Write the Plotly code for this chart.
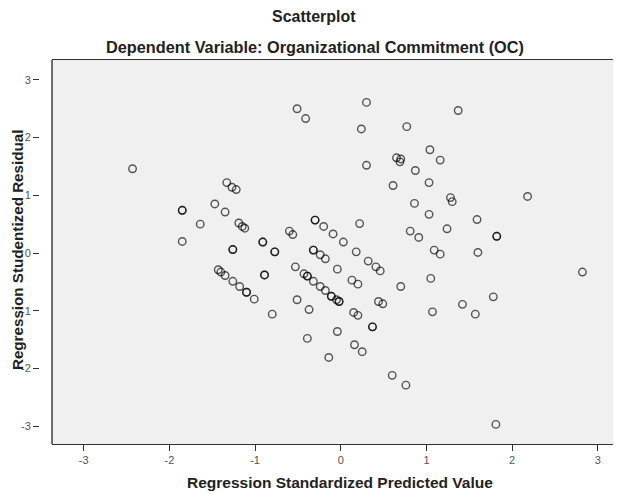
import plotly.graph_objects as go

# Regression standardized predicted values (x) and studentized residuals (y),
# read off the SPSS scatterplot; repeated pairs are cases drawn on top of each other
pred = [-2.43, -1.33, -1.27, -1.22, -1.85, -1.85, -1.47, -1.35, -1.64, -1.19,
        -1.15, -1.12, -1.85, -1.26, -1.26, -1.43, -1.40, -1.35, -1.26, -1.18,
        -1.10, -1.10, -1.01, -0.89, -0.89, -0.80, -0.91, -0.91, -0.77, -0.77,
        -0.60, -0.56, -0.51, -0.41, -0.30, -0.30, -0.20, -0.09, 0.03, 0.22,
        -0.32, -0.32, -0.24, -0.18, 0.18, 0.32, 0.41, 0.46, -0.53, -0.43,
        -0.39, -0.39, -0.32, -0.24, -0.18, -0.11, -0.11, -0.05, -0.02, -0.02,
        -0.04, 0.13, 0.20, 0.70, 1.05, -0.51, -0.37, 0.44, 0.49, 0.15,
        0.20, 1.07, 0.37, 0.37, -0.04, -0.39, 0.16, 0.25, -0.14, 0.60,
        0.76, 0.30, 0.24, 0.77, 1.37, 1.04, 1.16, 0.65, 0.70, 0.69,
        0.30, 0.87, 1.03, 0.61, 1.28, 1.30, 0.86, 1.03, 0.81, 0.91,
        1.24, 1.09, 1.16, 2.18, 1.59, 1.82, 1.82, 1.42, 1.57, 1.81,
        1.60, 2.82, 1.78]
resid = [1.46, 1.22, 1.14, 1.10, 0.74, 0.74, 0.85, 0.71, 0.50, 0.52,
         0.46, 0.43, 0.20, 0.06, 0.06, -0.29, -0.33, -0.39, -0.49, -0.58,
         -0.68, -0.68, -0.80, -0.38, -0.38, -1.06, 0.19, 0.19, 0.02, 0.02,
         0.38, 0.32, 2.50, 2.33, 0.57, 0.57, 0.46, 0.33, 0.19, 0.51,
         0.05, 0.05, -0.03, -0.10, 0.02, -0.14, -0.24, -0.31, -0.24, -0.36,
         -0.40, -0.40, -0.49, -0.58, -0.65, -0.75, -0.75, -0.81, -0.84, -0.84,
         -0.28, -0.47, -0.54, -0.58, -0.44, -0.81, -0.98, -0.84, -0.88, -1.03,
         -1.08, -1.02, -1.28, -1.28, -1.36, -1.48, -1.59, -1.71, -1.81, -2.12,
         -2.29, 2.61, 2.15, 2.19, 2.47, 1.79, 1.61, 1.65, 1.63, 1.58,
         1.52, 1.43, 1.22, 1.17, 0.96, 0.89, 0.86, 0.67, 0.38, 0.27,
         0.42, 0.05, -0.02, 0.98, 0.58, 0.29, 0.29, -0.89, -1.06, -2.97,
         0.01, -0.33, -0.76]

ticks = [-3, -2, -1, 0, 1, 2, 3]
tick_labels = ["-3", "-2", "-1", "0", "1", "2", "3"]

font_name = "Liberation Sans, Arial, sans-serif"

# the page puts the figure 8px in from the top-left corner, so the figure is
# 8px smaller and the margins are shifted by the same amount
fig = go.Figure()
fig.add_trace(go.Scatter(
    x=pred, y=resid, mode="markers",
    marker=dict(symbol="circle-open", size=7.5, color="rgba(0,0,0,0.65)",
                line=dict(width=1.4)),
    hoverinfo="x+y", showlegend=False))

fig.update_layout(
    width=613, height=486,
    margin=dict(l=31, r=0, t=52, b=50),
    paper_bgcolor="white", plot_bgcolor="#F0F0F0",
    font=dict(family=font_name, color="#222"),
    xaxis=dict(domain=[13 / 582, 1], range=[-3.37, 3.27],
               tickvals=ticks, ticktext=tick_labels,
               ticks="outside", ticklen=6, tickcolor="#333",
               tickfont=dict(size=11, color="#555"),
               showline=True, linecolor="#333", linewidth=1.3, mirror=True,
               showgrid=False, zeroline=False),
    yaxis=dict(range=[-3.31, 3.345], anchor="free", position=0,
               tickvals=ticks, ticktext=tick_labels,
               ticks="outside", ticklen=6, tickcolor="#333",
               tickfont=dict(size=11, color="#555"),
               showline=False, showgrid=False, zeroline=False),
    shapes=[dict(type="line", xref="x domain", yref="y domain",
                 x0=0, x1=0, y0=0, y1=1,
                 line=dict(color="#222", width=1.3))],
    annotations=[
        dict(text="<b>Scatterplot</b>", xref="paper", yref="paper",
             x=(306 - 31) / 582, y=1 + 44 / 384, showarrow=False,
             xanchor="center", yanchor="middle", font=dict(size=16)),
        dict(text="<b>Dependent Variable: Organizational Commitment (OC)</b>",
             xref="paper", yref="paper",
             x=(307 - 31) / 582, y=1 + 13 / 384, showarrow=False,
             xanchor="center", yanchor="middle", font=dict(size=16.3)),
        dict(text="<b>Regression Studentized Residual</b>", xref="paper",
             yref="paper", x=(9 - 31) / 582, y=0.505, textangle=-90,
             showarrow=False, xanchor="center", yanchor="middle",
             font=dict(size=15.2)),
        dict(text="<b>Regression Standardized Predicted Value</b>",
             xref="paper", yref="paper", x=(332 - 31) / 582,
             y=(436 - 474) / 384, showarrow=False,
             xanchor="center", yanchor="middle", font=dict(size=15.5)),
    ],
)

fig.write_html("out.html")
